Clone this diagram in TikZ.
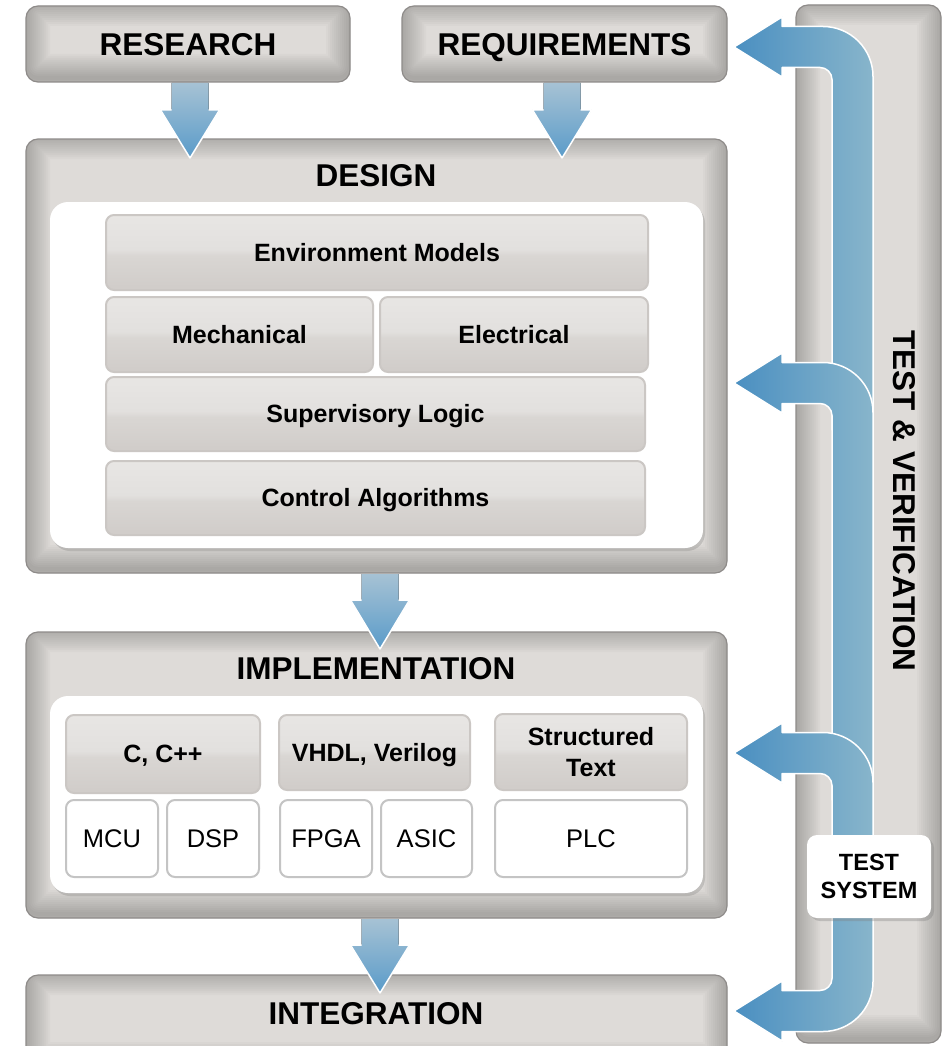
\documentclass[tikz,border=0pt]{standalone}
\usepackage{fontspec}
\setmainfont{Liberation Sans}
\usetikzlibrary{shadows}
\definecolor{panelfill}{HTML}{DEDBD8}
\definecolor{panelborder}{HTML}{8E8B89}
\definecolor{subborder}{HTML}{CBC7C4}
\definecolor{hwborder}{HTML}{C4C4C4}
\definecolor{gB}{HTML}{D0CCC9}
\definecolor{gM}{HTML}{D9D6D3}
\definecolor{gT2}{HTML}{E2E0DE}
\definecolor{gT}{HTML}{E8E6E4}
\definecolor{dtop}{HTML}{A6C2D4}
\definecolor{dbot}{HTML}{5A9BC9}
\definecolor{rblueL}{HTML}{4A8FC1}
\definecolor{rblueR}{HTML}{88B5CB}
\pgfdeclareverticalshading{gloss}{100bp}{color(0bp)=(gB); color(25bp)=(gB); color(48bp)=(gM); color(52bp)=(gT2); color(75bp)=(gT); color(100bp)=(gT)}
\newcommand\titlefnt{\fontsize{31.5}{34}\selectfont\bfseries}
\newcommand\subfnt{\fontsize{25}{31}\selectfont\bfseries}
\newcommand\hwfnt{\fontsize{25.5}{30}\selectfont}
\newcommand\tsfnt{\fontsize{23.5}{28}\selectfont\bfseries}
% box: style, x1, y1, x2, y2, name, text
\newcommand\bx[7]{\node[#1, minimum width={#4-#2}, minimum height={#5-#3}] (#6) at ({(#2+#4)/2},{(#3+#5)/2}) {#7};}
\newcommand\dnarrow[4]{%
  \fill[top color=dtop, bottom color=dbot] ({#1-18.5},#2) -- ({#1+18.5},#2) -- ({#1+18.5},#3) -- ({#1+29.5},#3) -- (#1,#4) -- ({#1-29.5},#3) -- ({#1-18.5},#3) -- cycle;
  \draw[white, line width=1.5pt, line join=round] ({#1-18.5},#3) -- ({#1-29.5},#3) -- (#1,#4) -- ({#1+29.5},#3) -- ({#1+18.5},#3);}
\begin{document}
\begin{tikzpicture}[x=1pt,y=-1pt,
  panel/.style={draw=panelborder, line width=1.2pt, fill=panelfill, rounded corners=12pt, inner sep=0pt,
    path picture={\foreach \w in {4,8,...,48}{\draw[line width=\w pt, black, opacity=0.021, rounded corners=12pt] ([yshift=4pt]path picture bounding box.south west) rectangle ([yshift=4pt]path picture bounding box.north east);}}},
  titlepanel/.style={panel, font=\titlefnt, text height=22.5pt, text depth=0pt},
  whitepanel/.style={fill=white, rounded corners=18pt, inner sep=0pt, drop shadow={opacity=0.3, shadow xshift=2pt, shadow yshift=-3pt}},
  subbox/.style={shade, shading=gloss, draw=subborder, line width=2pt, rounded corners=8pt, inner sep=0pt, font=\subfnt, align=center},
  subone/.style={subbox, text height=17.9pt, text depth=0pt},
  hwbox/.style={fill=white, draw=hwborder, line width=2pt, rounded corners=8pt, inner sep=0pt, font=\hwfnt, text height=18.3pt, text depth=0pt},
  title/.style={font=\titlefnt, inner sep=0pt, text height=22.5pt, text depth=0pt},
  rarrow/.style={left color=rblueL, right color=rblueR, draw=white, line width=1.5pt, line join=round},
  tsbox/.style={fill=white, rounded corners=10pt, inner sep=0pt, font=\tsfnt, align=center, drop shadow={opacity=0.35, shadow xshift=3pt, shadow yshift=-3pt}}
]
\useasboundingbox (0,0) rectangle (951,1046);

% outer panels
\bx{titlepanel}{26}{6}{350}{82}{research}{RESEARCH}
\bx{titlepanel}{402}{6}{727}{82}{requirements}{REQUIREMENTS}
\bx{panel}{26}{139}{727}{573}{design}{}
\bx{panel}{26}{632}{727}{918}{impl}{}
\bx{panel}{26}{975}{727}{1070}{integ}{}
\bx{panel}{796}{5}{941}{1043}{tv}{}

\node[title] (designT) at (376,175) {DESIGN};
\node[title] (implT) at (376,668) {IMPLEMENTATION};
\node[title] (integT) at (376,1013) {INTEGRATION};
\node[title, rotate=-90] (tvT) at (905,501) {TEST \& VERIFICATION};

% design contents
\bx{whitepanel}{50}{202}{703}{548}{designW}{}
\bx{subone}{106}{215}{648}{290}{env}{Environment Models}
\bx{subone}{106}{297}{373}{372}{mech}{Mechanical}
\bx{subone}{380}{297}{648}{372}{elec}{Electrical}
\bx{subone}{106}{377}{645}{451}{sup}{Supervisory Logic}
\bx{subone}{106}{461}{645}{535}{ctrl}{Control Algorithms}

% implementation contents
\bx{whitepanel}{50}{696}{703}{893}{implW}{}
\bx{subone}{66}{715}{260}{793}{cpp}{C, C++}
\bx{subone}{279}{715}{470}{790}{vhdl}{VHDL, Verilog}
\bx{subbox}{495}{714}{687}{790}{st}{Structured\\Text}
\bx{hwbox}{66}{800}{158}{877}{mcu}{MCU}
\bx{hwbox}{167}{800}{259}{877}{dsp}{DSP}
\bx{hwbox}{280}{800}{372}{877}{fpga}{FPGA}
\bx{hwbox}{381}{800}{472}{877}{asic}{ASIC}
\bx{hwbox}{495}{800}{687}{877}{plc}{PLC}

% down arrows
\dnarrow{190}{83}{110}{158}
\dnarrow{562}{83}{110}{158}
\dnarrow{380}{574}{600}{649}
\dnarrow{380}{919}{945}{993}

% right side arrows
\filldraw[rarrow] (734,47) -- (782,17) -- (782,26.5) -- (823,26.5) .. controls (850.6,26.5) and (873,48.9) .. (873,76.5) -- (873,430) -- (832,430) -- (832,79.5) .. controls (832,72.9) and (826.6,67.5) .. (820,67.5) -- (782,67.5) -- (782,77) -- cycle;
\filldraw[rarrow] (734,383) -- (782,353) -- (782,362.5) -- (823,362.5) .. controls (850.6,362.5) and (873,384.9) .. (873,412.5) -- (873,800) -- (832,800) -- (832,415.5) .. controls (832,408.9) and (826.6,403.5) .. (820,403.5) -- (782,403.5) -- (782,413) -- cycle;
\filldraw[rarrow] (734,753) -- (782,723) -- (782,732.5) -- (823,732.5) .. controls (850.6,732.5) and (873,754.9) .. (873,782.5) -- (873,895) -- (832,895) -- (832,785.5) .. controls (832,778.9) and (826.6,773.5) .. (820,773.5) -- (782,773.5) -- (782,783) -- cycle;
\filldraw[rarrow] (734,1011) -- (782,981) -- (782,990.5) -- (820,990.5) .. controls (826.6,990.5) and (832,985.1) .. (832,978.5) -- (832,860) -- (873,860) -- (873,981.5) .. controls (873,1009.1) and (850.6,1031.5) .. (823,1031.5) -- (782,1031.5) -- (782,1041) -- cycle;

\bx{tsbox}{807}{835}{931}{918}{ts}{TEST\\SYSTEM}
\end{tikzpicture}
\end{document}
